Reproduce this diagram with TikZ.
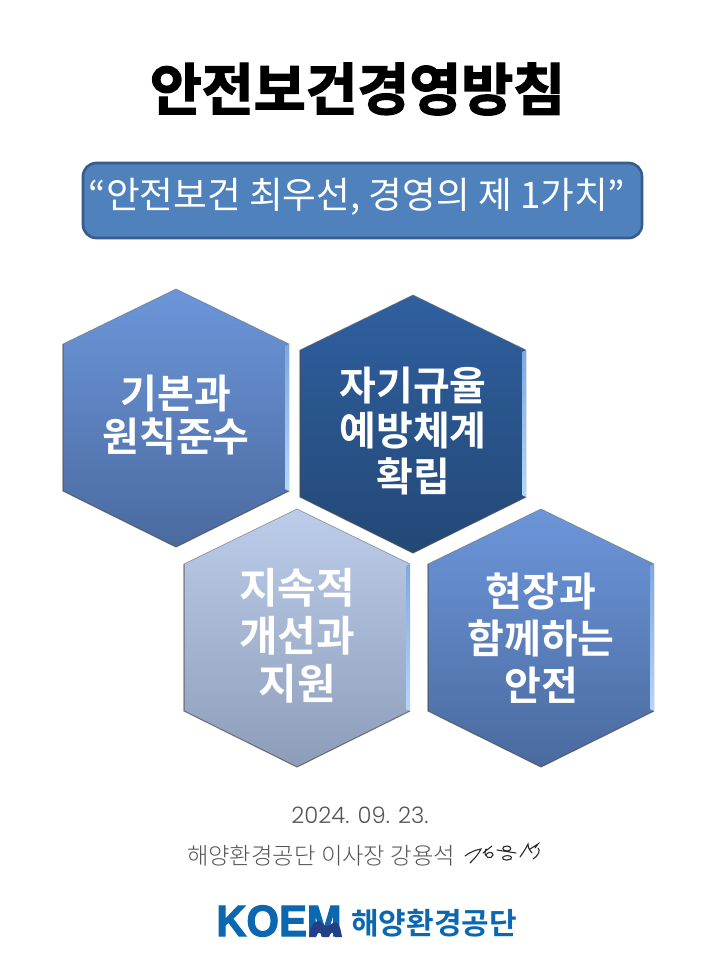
\documentclass[tikz,border=0pt]{standalone}
\usepackage{fontspec}
\setmainfont{Noto Sans CJK KR}[BoldFont={* Bold}]
\newfontfamily\titlefont{Noto Sans CJK KR Bold}[FakeBold=2.4]
\newfontfamily\logofont{Liberation Sans Bold}[FakeBold=2.5]
\newfontfamily\thinfont{Noto Sans CJK KR Light}
\newfontfamily\datefont{Poppins Light}
\definecolor{boxfill}{HTML}{4F81BD}
\definecolor{boxedge}{HTML}{385D8A}
\definecolor{logoblue}{HTML}{0B67B0}
\definecolor{logonavy}{HTML}{233F86}
\definecolor{grayink}{HTML}{555555}
\definecolor{midhi}{HTML}{6C96DA}
\definecolor{midlo}{HTML}{4A6A9F}
\definecolor{darkhi}{HTML}{2F609F}
\definecolor{darklo}{HTML}{234877}
\definecolor{palehi}{HTML}{BCCDEB}
\definecolor{palelo}{HTML}{8D9DB9}
\definecolor{bevelhi}{HTML}{7FA8E0}
\definecolor{bevello}{HTML}{B5D6FA}
\begin{document}
\begin{tikzpicture}[x=0.75pt,y=-0.75pt,
      every node/.append style={align=center,inner sep=0pt}]
    \tikzstyle{cell} = [font=\bfseries\fontsize{30}{33}\selectfont,color=white]
    \tikzstyle{small} = [font=\thinfont\fontsize{17.5}{20}\selectfont,color=grayink]
    \useasboundingbox (0,0) rectangle (720,960);
    \node (heading) at (357.5,89) {\titlefont\fontsize{42.3}{46}\selectfont 안전보건경영방침};
    \draw[boxedge,fill=boxfill,line width=2pt,rounded corners=10pt] (83,163) rectangle (642,238);
    \node (motto) at (357,197) [color=white,font=\fontsize{27.5}{30}\selectfont] {“안전보건 최우선, 경영의 제 1가치”};
    \foreach \cx/\cy/\hi/\lo in {176/418/midhi/midlo,413/424/darkhi/darklo,297/638/palehi/palelo,541/638/midhi/midlo}{
      \begin{scope}[shift={(\cx,\cy)}]
        \path[top color=\hi,bottom color=\lo] (0,-129) -- (113,-74) -- (113,73) -- (0,129) -- (-113,73) -- (-113,-74) -- cycle;
        \path[top color=bevelhi,bottom color=bevello] (109,-72) -- (113,-74) -- (113,73) -- (109,71) -- cycle;
        \draw[black!55,line width=0.5pt,opacity=.7] (-113,-74) -- (0,-129) -- (113,-74);
        \draw[black!70,line width=0.8pt,opacity=.7] (-113,-74) -- (-113,73) -- (0,129) -- (113,73);
      \end{scope}
    }
    \node (basic) at (176,415) [cell] {기본과\\[-1pt]원칙준수};
    \node (self) at (413,431) [cell] {자기규율\\[1pt]예방체계\\[1pt]확립};
    \node (improve) at (297,636) [cell,font=\bfseries\fontsize{31.5}{33}\selectfont] {지속적\\[3pt]개선과\\[3pt]지원};
    \node (field) at (541,638) [cell] {현장과\\[2pt]함께하는\\[2pt]안전};
    \node (date) at (360,815) [small,font=\datefont\fontsize{17}{20}\selectfont] {2024. 09. 23.};
    \node (ceo) at (321,856) [small] {해양환경공단 이사장 강용석};
    \draw[black!85,line width=0.8pt,line cap=round] (465,856) .. controls (472,851) and (476,850) .. (481,849) .. controls (478,855) and (474,859) .. (470,863);
    \draw[black!85,line width=0.8pt,line cap=round] (483,853) -- (492,846) (486,849) .. controls (482,858) and (492,860) .. (493,855) .. controls (493,851) and (487,852) .. (486,855);
    \draw[black!85,line width=0.8pt,line cap=round] (497,850) -- (516,853) (507,846) .. controls (501,846) and (502,851) .. (507,851) .. controls (512,851) and (512,846) .. (507,846) (505,856) .. controls (499,858) and (505,862) .. (511,859) .. controls (513,856) and (508,855) .. (505,856);
    \draw[black!85,line width=0.8pt,line cap=round] (520,857) .. controls (523,853) and (526,848) .. (528,844) .. controls (528,848) and (530,851) .. (532,853) (530,849) -- (538,844) -- (535,848) (538,848) .. controls (541,850) and (538,856) .. (533,859);
    \node (koem) at (279,921) {\logofont\fontsize{33}{36}\selectfont\color{logoblue}\scalebox{.95}[1]{KOEM}};
    \fill[logonavy] (309,937) .. controls (310,928) and (313,921) .. (318,921) .. controls (323,921) and (323,927) .. (328,926) .. controls (332,924) and (334,921) .. (337,923) .. controls (340,925) and (341,931) .. (342,937) -- (335,937) .. controls (334,931) and (331,931) .. (329,937) -- (322,937) .. controls (321,931) and (318,931) .. (316,937) -- cycle;
    \node (koemname) at (434,923) [color=logoblue,font=\bfseries\fontsize{22.5}{26}\selectfont] {해양환경공단};
\end{tikzpicture}
\end{document}
